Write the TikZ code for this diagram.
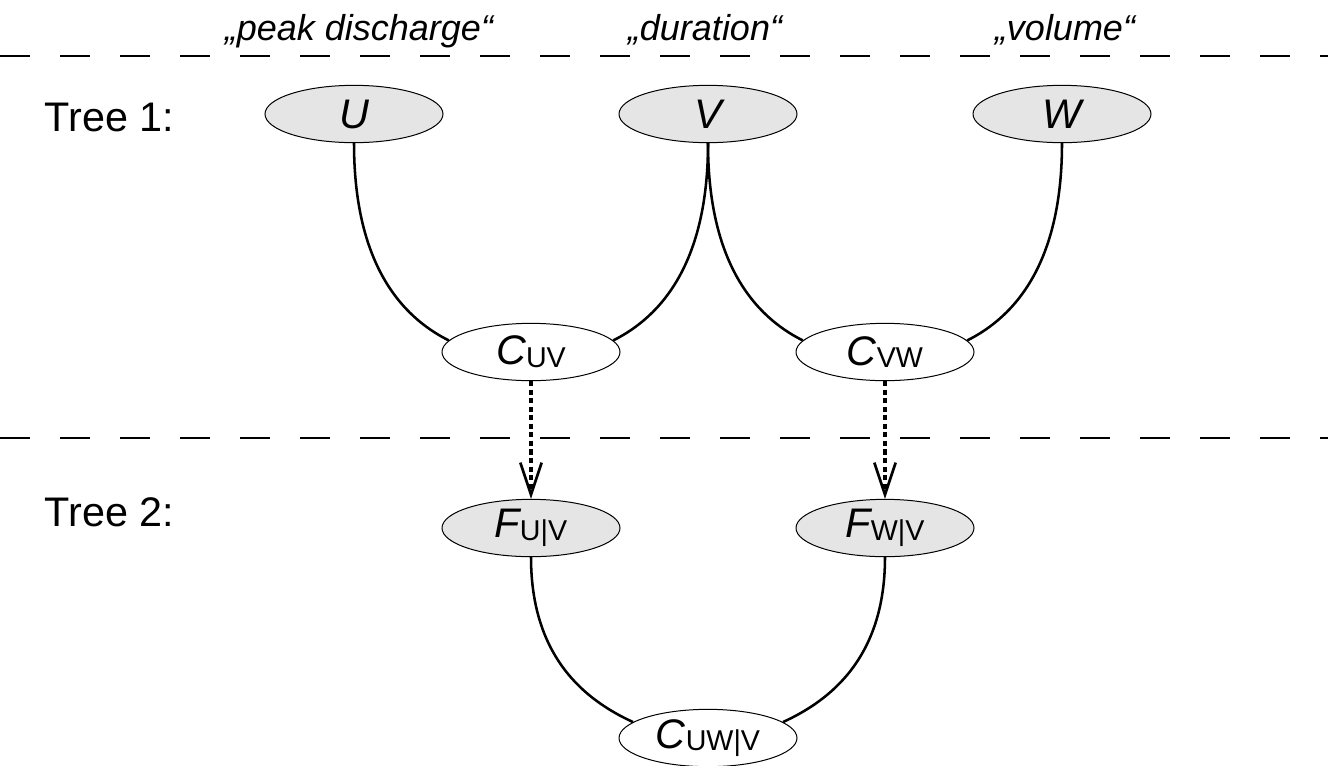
\documentclass[tikz,border=0pt]{standalone}
\usepackage{fontspec}
\setmainfont{Liberation Sans}
\usetikzlibrary{arrows.meta,shapes.geometric}
\newcommand{\lowsub}[1]{\raisebox{-2pt}{\fontsize{21.5}{21.5}\selectfont\upshape #1}}
\tikzset{
  varnode/.style={ellipse, draw, line width=0.75pt, fill=black!10, minimum width=133.5pt,
    minimum height=43pt, inner sep=0pt, font=\fontsize{31}{31}\selectfont\itshape},
  copnode/.style={varnode, fill=white},
  link/.style={line width=1.9pt},
  cond/.style={line width=2.4pt, dash pattern=on 3.8pt off 2.6pt,
    -{Straight Barb[length=24pt,width=16pt,line width=2pt]}},
  sep/.style={line width=0.9pt, dash pattern=on 22.5pt off 22.5pt},
  toplabel/.style={font=\fontsize{27}{27}\selectfont\itshape, anchor=base},
  treelabel/.style={font=\fontsize{31}{31}\selectfont, anchor=west},
}

\begin{document}
\begin{tikzpicture}[x=0.75pt, y=-0.75pt]
  \useasboundingbox (0,0) rectangle (1328,765);
  % variable names
  \node[toplabel] (lpeak) at (359,40) {„peak discharge“};
  \node[toplabel] (ldur) at (705,40) {„duration“};
  \node[toplabel] (lvol) at (1065,40) {„volume“};
  \draw[sep] (0,56) -- (1328,56);
  \draw[sep] (0,438) -- (1328,438);
  \node[treelabel] (tree1) at (40,117) {Tree 1:};
  \node[treelabel] (tree2) at (40,512) {Tree 2:};

  % tree 1
  \node[varnode] (u) at (354,114) {U};
  \node[varnode] (v) at (708,114) {V};
  \node[varnode] (w) at (1062,114) {W};
  \node[copnode] (cuv) at (531,352) {C\lowsub{UV}};
  \node[copnode] (cvw) at (885,352) {C\lowsub{VW}};
  \draw[link] (u.south) .. controls +(0,120) and +(-48,-24) .. (cuv.172);
  \draw[link] (v.south) .. controls +(0,120) and +(48,-24) .. (cuv.8);
  \draw[link] (v.south) .. controls +(0,120) and +(-48,-24) .. (cvw.172);
  \draw[link] (w.south) .. controls +(0,120) and +(48,-24) .. (cvw.8);

  % tree 2
  \node[varnode] (fuv) at (531,528) {F\lowsub{U|V}};
  \node[varnode] (fwv) at (885,528) {F\lowsub{W|V}};
  \node[copnode] (cuwv) at (708,738) {C\lowsub{UW|V}};
  \draw[cond] (cuv) -- (fuv);
  \draw[cond] (cvw) -- (fwv);
  \draw[link] (fuv.south) .. controls +(0,100) and +(-48,-22) .. (cuwv.168);
  \draw[link] (fwv.south) .. controls +(0,100) and +(48,-22) .. (cuwv.12);
\end{tikzpicture}
\end{document}
